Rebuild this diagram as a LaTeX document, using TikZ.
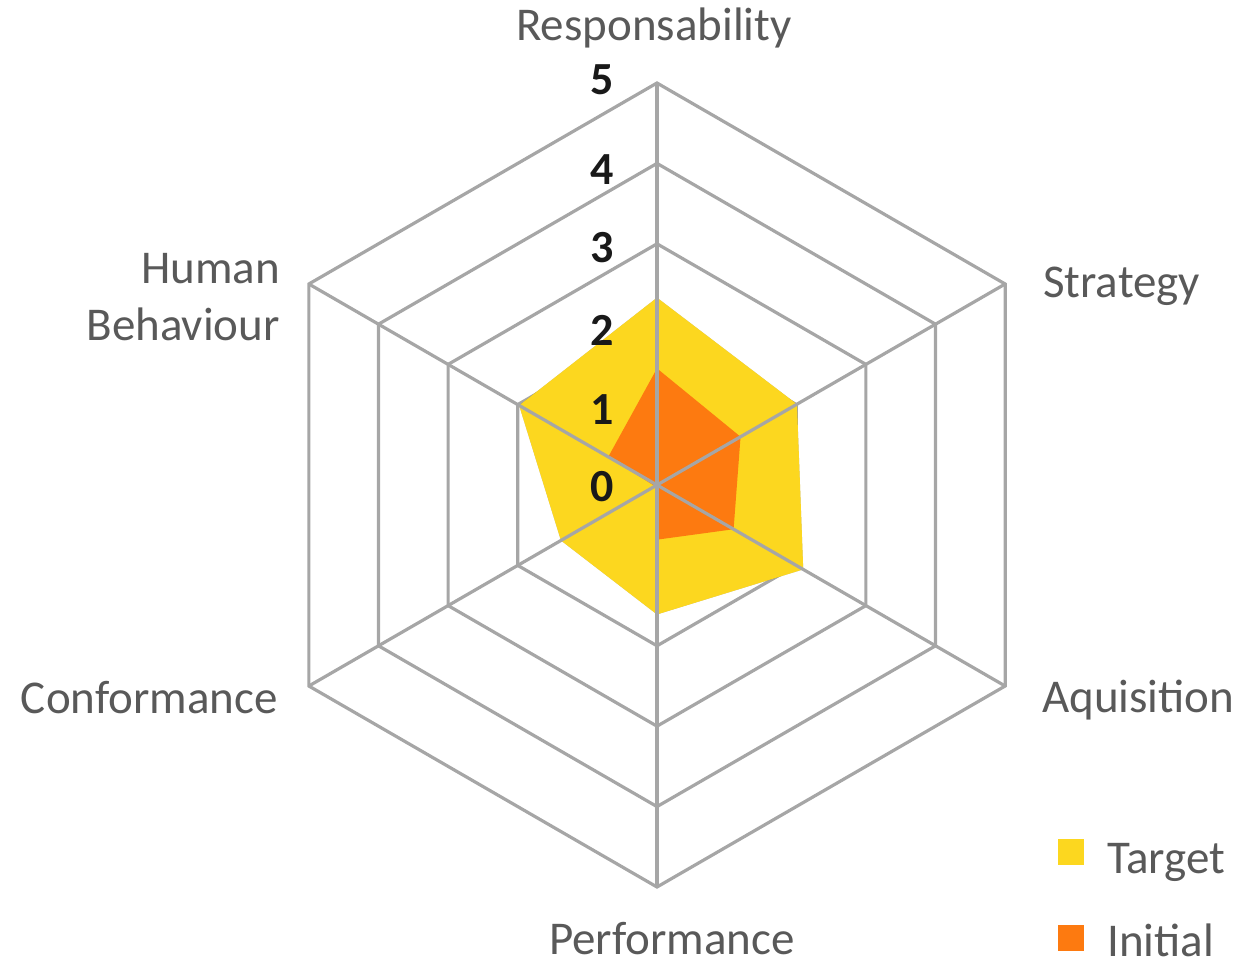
\documentclass[tikz,border=0pt]{standalone}
\usepackage{fontspec}
\setmainfont{Carlito}
\definecolor{gridgray}{HTML}{A6A6A6}
\definecolor{labelgray}{HTML}{595959}
\definecolor{targetyellow}{HTML}{FCD71F}
\definecolor{initorange}{HTML}{FD7A10}
\begin{document}
\begin{tikzpicture}[x=1pt,y=-1pt,
  gridline/.style={draw=gridgray,line width=3.2pt,line join=miter},
  axislabel/.style={font=\fontsize{47}{57}\selectfont,text=labelgray,inner sep=0pt},
  ticklabel/.style={font=\fontsize{46}{48}\selectfont\bfseries,text=black!90,inner sep=0pt},
  legendbox/.style={minimum size=26pt,inner sep=0pt}]
\useasboundingbox (0,0) rectangle (1242,960);
\coordinate (c) at (657,485);
\def\unitr{80.4}
% rings
\foreach \k in {1,...,5}{
  \draw[gridline] ([shift={(90:\k*\unitr pt)}]c)
    -- ([shift={(30:\k*\unitr pt)}]c)
    -- ([shift={(-30:\k*\unitr pt)}]c)
    -- ([shift={(-90:\k*\unitr pt)}]c)
    -- ([shift={(210:\k*\unitr pt)}]c)
    -- ([shift={(150:\k*\unitr pt)}]c) -- cycle;
}
% shadow of target
\fill[black,opacity=0.25,shift={(2,3)}] ([shift={(90:2.33*\unitr pt)}]c)
  -- ([shift={(30:2.01*\unitr pt)}]c)
  -- ([shift={(-30:2.10*\unitr pt)}]c)
  -- ([shift={(-90:1.61*\unitr pt)}]c)
  -- ([shift={(210:1.38*\unitr pt)}]c)
  -- ([shift={(150:1.98*\unitr pt)}]c) -- cycle;
% target
\fill[targetyellow] ([shift={(90:2.33*\unitr pt)}]c)
  -- ([shift={(30:2.01*\unitr pt)}]c)
  -- ([shift={(-30:2.10*\unitr pt)}]c)
  -- ([shift={(-90:1.61*\unitr pt)}]c)
  -- ([shift={(210:1.38*\unitr pt)}]c)
  -- ([shift={(150:1.98*\unitr pt)}]c) -- cycle;
% initial
\fill[initorange] ([shift={(90:1.45*\unitr pt)}]c)
  -- ([shift={(30:1.20*\unitr pt)}]c)
  -- ([shift={(-30:1.10*\unitr pt)}]c)
  -- ([shift={(-90:0.68*\unitr pt)}]c)
  -- ([shift={(210:0.03*\unitr pt)}]c)
  -- ([shift={(150:0.70*\unitr pt)}]c) -- cycle;
% spokes
\foreach \a in {90,30,-30,-90,210,150}{
  \draw[gridline] (c) -- ([shift={(\a:5*\unitr pt)}]c);
}
% tick labels
\node[ticklabel] (t5) at (602,80) {5};
\node[ticklabel] (t4) at (602,170) {4};
\node[ticklabel] (t3) at (602,248) {3};
\node[ticklabel] (t2) at (602,330) {2};
\node[ticklabel] (t1) at (602,410) {1};
\node[ticklabel] (t0) at (602,487) {0};
% axis labels
\node[axislabel,anchor=base] (resp) at (654,41) {Responsability};
\node[axislabel,anchor=base west] (strat) at (1043,297) {Strategy};
\node[axislabel,anchor=base west] (aqui) at (1042,712) {Aquisition};
\node[axislabel,anchor=base] (perf) at (672,954) {Performance};
\node[axislabel,anchor=base east] (conf) at (278,713) {Conformance};
\node[axislabel,anchor=base east,align=right] (human) at (280,340) {Human\\Behaviour};
% legend
\node[legendbox,fill=targetyellow] (lt) at (1070.5,851.5) {};
\node[legendbox,fill=initorange] (li) at (1070.5,937.5) {};
\node[axislabel,anchor=base west] (ltt) at (1107,873) {Target};
\node[axislabel,anchor=base west] (lit) at (1107,956) {Initial};
\end{tikzpicture}
\end{document}
